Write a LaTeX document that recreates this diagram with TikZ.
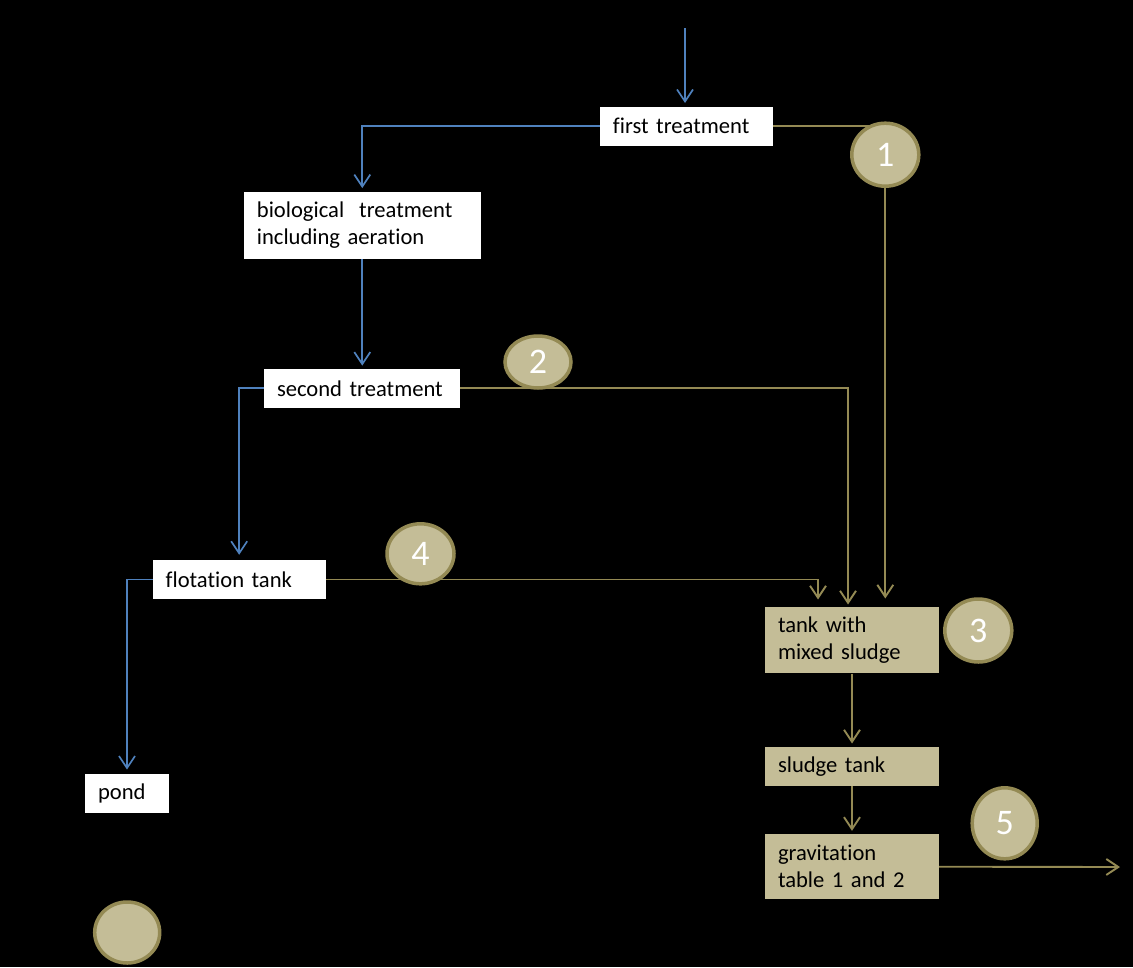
\documentclass[tikz,border=0pt]{standalone}
\usepackage{fontspec}
\setmainfont{Carlito}[Ligatures={NoCommon}]
\usetikzlibrary{arrows.meta,calc,shapes.geometric}
\pgfdeclarelayer{lines}
\pgfsetlayers{lines,main}
\definecolor{flowblue}{RGB}{79,129,189}
\definecolor{sludgeline}{RGB}{148,138,84}
\definecolor{sludgefill}{RGB}{196,189,151}

\begin{document}
\begin{tikzpicture}[x=1pt,y=-1pt,
  box/.style={rectangle,fill=white,inner xsep=13pt,inner ysep=0pt,align=left,text width=#1,minimum height=39pt,font=\fontsize{22.6}{27}\selectfont,text=black},
  tankbox/.style={box=#1,fill=sludgefill},
  marker/.style={ellipse,draw=sludgeline,line width=3.5pt,fill=sludgefill,inner sep=0pt,text=white,font=\fontsize{36}{36}\selectfont},
  pipe/.style={draw=sludgeline,line width=1.9pt},
  sludgecon/.style={pipe,-{Straight Barb[length=12pt,width=16pt]}},
  watercon/.style={draw=flowblue,line width=1.7pt,-{Straight Barb[length=12pt,width=16pt]}}]
\begin{pgfonlayer}{lines}
\fill[black] (0,0) rectangle (1133,967);
\end{pgfonlayer}
\coordinate (src) at (685,28); \coordinate (out) at (1120,867);
\node[box=146.7pt] (first) at (686.3,126.2) {first treatment};
\node[box=210.7pt,minimum height=66.4pt] (bio) at (362.3,225.5) {biological\ \ treatment\\including aeration};
\node[box=170pt] (second) at (362,388.3) {second treatment};
\node[box=147pt] (flot) at (239.2,579.5) {flotation tank};
\node[box=58pt] (pond) at (127,793.3) {pond};
\node[tankbox=148pt,minimum height=66.6pt] (mixed) at (852,640) {tank with\\mixed sludge};
\node[tankbox=148pt] (stank) at (852,766.2) {sludge tank};
\node[tankbox=148pt,minimum height=65.3pt] (grav) at (852,866.7) {gravitation\\table 1 and 2};
\node[marker,minimum width=67pt,minimum height=63pt] (c1) at (885.3,154.7) {1};
\node[marker,minimum width=66pt,minimum height=52pt] (c2) at (538,362) {2};
\node[marker,minimum width=67pt,minimum height=63pt] (c3) at (978.3,630.5) {3};
\node[marker,minimum width=67pt,minimum height=60pt] (c4) at (420.5,553.8) {4};
\node[marker,minimum width=65pt,minimum height=71pt] (c5) at (1004.7,823.3) {5};
\node[marker,minimum width=65pt,minimum height=61pt] (c0) at (127.2,932.5) {};
\begin{pgfonlayer}{lines}
\draw[watercon,shorten >=3.5pt] (src) -- (src |- first.north);
\draw[watercon,shorten >=4pt] (first.west) -| (bio.north);
\draw[watercon,shorten >=3pt] (bio.south) -- (bio.south |- second.north);
\draw[watercon,shorten >=5pt] (second.west) -| (flot.north);
\draw[watercon,shorten >=4pt] (flot.west) -| (pond.north);
\draw[pipe] (first.east) -- (c1.center |- first.east);
\draw[sludgecon,shorten >=8pt] (c1.south) -- (c1.south |- mixed.north);
\draw[sludgecon,shorten >=2pt] (second.east) -| ($(mixed.north)+(-4,0)$);
\draw[sludgecon,shorten >=7pt] (flot.east) -| ($(mixed.north)+(-34,0)$);
\draw[sludgecon,shorten >=3pt] (mixed.south) -- (stank.north);
\draw[sludgecon,shorten >=3pt] (stank.south) -- (grav.north);
\draw[sludgecon] (grav.east) -- (out);
\end{pgfonlayer}
\end{tikzpicture}
\end{document}
